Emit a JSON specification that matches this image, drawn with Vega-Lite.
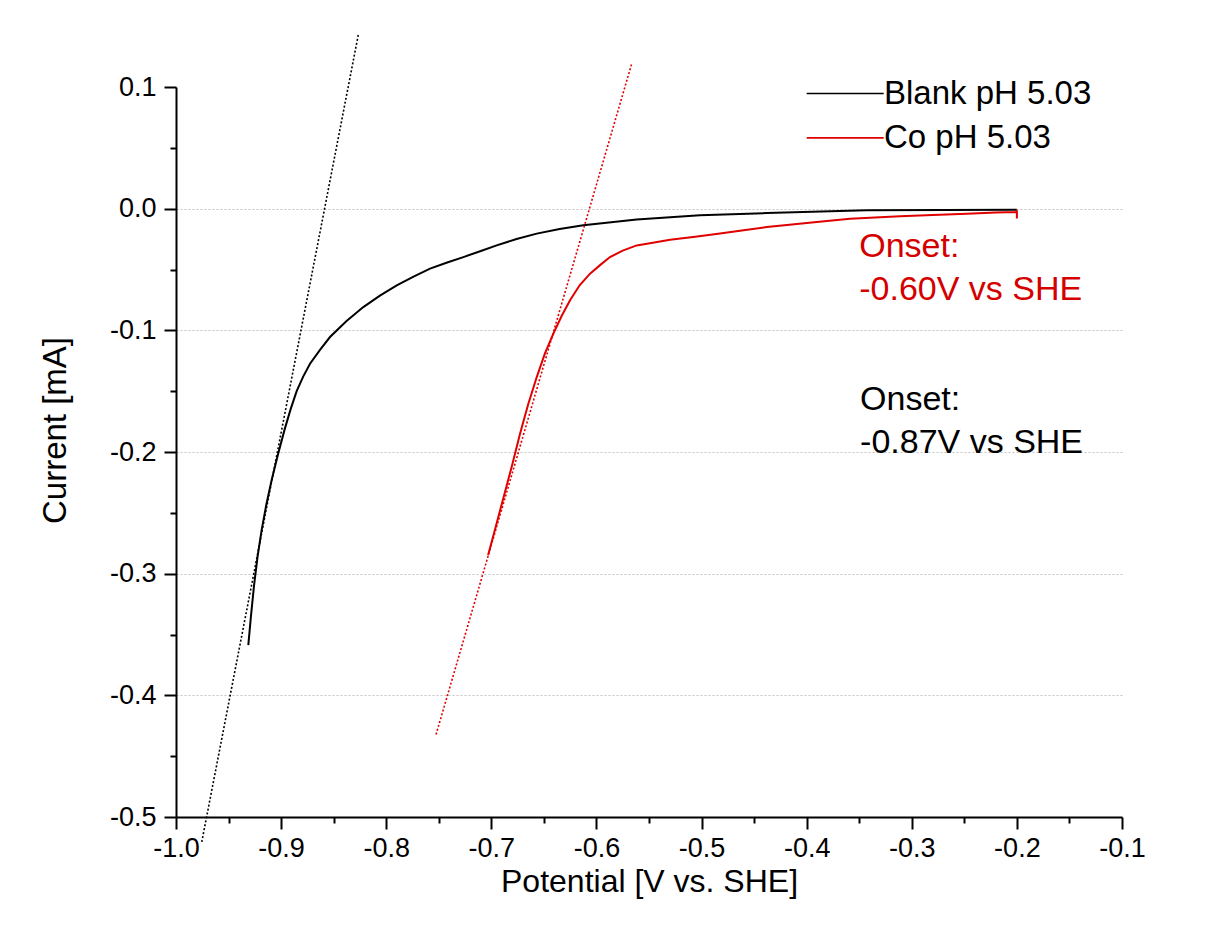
{
  "$schema": "https://vega.github.io/schema/vega-lite/v6.json",
  "width": 946,
  "height": 730,
  "autosize": {"type": "none"},
  "padding": {"left": 176, "top": 87, "right": 91, "bottom": 108},
  "background": "white",
  "config": {
    "view": {"stroke": null},
    "font": "Liberation Sans"
  },
  "datasets": {
    "curves": [
      {"series": "Blank pH 5.03", "i": 1, "potential": -0.9312, "current": -0.3588},
      {"series": "Blank pH 5.03", "i": 2, "potential": -0.9287, "current": -0.3350},
      {"series": "Blank pH 5.03", "i": 3, "potential": -0.9258, "current": -0.3100},
      {"series": "Blank pH 5.03", "i": 4, "potential": -0.9224, "current": -0.2860},
      {"series": "Blank pH 5.03", "i": 5, "potential": -0.9185, "current": -0.2640},
      {"series": "Blank pH 5.03", "i": 6, "potential": -0.9140, "current": -0.2430},
      {"series": "Blank pH 5.03", "i": 7, "potential": -0.9090, "current": -0.2230},
      {"series": "Blank pH 5.03", "i": 8, "potential": -0.9030, "current": -0.2020},
      {"series": "Blank pH 5.03", "i": 9, "potential": -0.8965, "current": -0.1810},
      {"series": "Blank pH 5.03", "i": 10, "potential": -0.8910, "current": -0.1650},
      {"series": "Blank pH 5.03", "i": 11, "potential": -0.8852, "current": -0.1500},
      {"series": "Blank pH 5.03", "i": 12, "potential": -0.8790, "current": -0.1380},
      {"series": "Blank pH 5.03", "i": 13, "potential": -0.8725, "current": -0.1274},
      {"series": "Blank pH 5.03", "i": 14, "potential": -0.8630, "current": -0.1160},
      {"series": "Blank pH 5.03", "i": 15, "potential": -0.8535, "current": -0.1055},
      {"series": "Blank pH 5.03", "i": 16, "potential": -0.8380, "current": -0.0925},
      {"series": "Blank pH 5.03", "i": 17, "potential": -0.8218, "current": -0.0809},
      {"series": "Blank pH 5.03", "i": 18, "potential": -0.8060, "current": -0.0715},
      {"series": "Blank pH 5.03", "i": 19, "potential": -0.7900, "current": -0.0630},
      {"series": "Blank pH 5.03", "i": 20, "potential": -0.7740, "current": -0.0558},
      {"series": "Blank pH 5.03", "i": 21, "potential": -0.7583, "current": -0.0493},
      {"series": "Blank pH 5.03", "i": 22, "potential": -0.7420, "current": -0.0443},
      {"series": "Blank pH 5.03", "i": 23, "potential": -0.7266, "current": -0.0398},
      {"series": "Blank pH 5.03", "i": 24, "potential": -0.7100, "current": -0.0348},
      {"series": "Blank pH 5.03", "i": 25, "potential": -0.6949, "current": -0.0302},
      {"series": "Blank pH 5.03", "i": 26, "potential": -0.6760, "current": -0.0250},
      {"series": "Blank pH 5.03", "i": 27, "potential": -0.6568, "current": -0.0205},
      {"series": "Blank pH 5.03", "i": 28, "potential": -0.6350, "current": -0.0168},
      {"series": "Blank pH 5.03", "i": 29, "potential": -0.6125, "current": -0.0137},
      {"series": "Blank pH 5.03", "i": 30, "potential": -0.5617, "current": -0.0090},
      {"series": "Blank pH 5.03", "i": 31, "potential": -0.5015, "current": -0.0055},
      {"series": "Blank pH 5.03", "i": 32, "potential": -0.4380, "current": -0.0036},
      {"series": "Blank pH 5.03", "i": 33, "potential": -0.3428, "current": -0.0014},
      {"series": "Blank pH 5.03", "i": 34, "potential": -0.2700, "current": -0.0010},
      {"series": "Blank pH 5.03", "i": 35, "potential": -0.2001, "current": -0.0008},
      {"series": "Co pH 5.03", "i": 1, "potential": -0.7031, "current": -0.2849},
      {"series": "Co pH 5.03", "i": 2, "potential": -0.6960, "current": -0.2620},
      {"series": "Co pH 5.03", "i": 3, "potential": -0.6886, "current": -0.2380},
      {"series": "Co pH 5.03", "i": 4, "potential": -0.6800, "current": -0.2100},
      {"series": "Co pH 5.03", "i": 5, "potential": -0.6727, "current": -0.1850},
      {"series": "Co pH 5.03", "i": 6, "potential": -0.6650, "current": -0.1610},
      {"series": "Co pH 5.03", "i": 7, "potential": -0.6568, "current": -0.1384},
      {"series": "Co pH 5.03", "i": 8, "potential": -0.6490, "current": -0.1190},
      {"series": "Co pH 5.03", "i": 9, "potential": -0.6410, "current": -0.1027},
      {"series": "Co pH 5.03", "i": 10, "potential": -0.6330, "current": -0.0880},
      {"series": "Co pH 5.03", "i": 11, "potential": -0.6251, "current": -0.0753},
      {"series": "Co pH 5.03", "i": 12, "potential": -0.6160, "current": -0.0630},
      {"series": "Co pH 5.03", "i": 13, "potential": -0.6061, "current": -0.0534},
      {"series": "Co pH 5.03", "i": 14, "potential": -0.5960, "current": -0.0460},
      {"series": "Co pH 5.03", "i": 15, "potential": -0.5871, "current": -0.0398},
      {"series": "Co pH 5.03", "i": 16, "potential": -0.5750, "current": -0.0345},
      {"series": "Co pH 5.03", "i": 17, "potential": -0.5617, "current": -0.0302},
      {"series": "Co pH 5.03", "i": 18, "potential": -0.5450, "current": -0.0278},
      {"series": "Co pH 5.03", "i": 19, "potential": -0.5300, "current": -0.0255},
      {"series": "Co pH 5.03", "i": 20, "potential": -0.5060, "current": -0.0230},
      {"series": "Co pH 5.03", "i": 21, "potential": -0.4824, "current": -0.0205},
      {"series": "Co pH 5.03", "i": 22, "potential": -0.4600, "current": -0.0178},
      {"series": "Co pH 5.03", "i": 23, "potential": -0.4380, "current": -0.0151},
      {"series": "Co pH 5.03", "i": 24, "potential": -0.4140, "current": -0.0130},
      {"series": "Co pH 5.03", "i": 25, "potential": -0.3904, "current": -0.0110},
      {"series": "Co pH 5.03", "i": 26, "potential": -0.3587, "current": -0.0082},
      {"series": "Co pH 5.03", "i": 27, "potential": -0.3111, "current": -0.0063},
      {"series": "Co pH 5.03", "i": 28, "potential": -0.2800, "current": -0.0052},
      {"series": "Co pH 5.03", "i": 29, "potential": -0.2477, "current": -0.0041},
      {"series": "Co pH 5.03", "i": 30, "potential": -0.2200, "current": -0.0032},
      {"series": "Co pH 5.03", "i": 31, "potential": -0.2010, "current": -0.0027},
      {"series": "Co pH 5.03", "i": 32, "potential": -0.2000, "current": -0.0022},
      {"series": "Co pH 5.03", "i": 33, "potential": -0.2000, "current": -0.0080}
    ],
    "blankFit": [
      {"potential": -0.9755, "current": -0.5205},
      {"potential": -0.8265, "current": 0.1432}
    ],
    "coFit": [
      {"potential": -0.7526, "current": -0.4322},
      {"potential": -0.5661, "current": 0.1202}
    ],
    "blankNote": [
      {"potential": -0.3492, "current": -0.1657, "label": "Onset:\n-0.87V vs SHE"}
    ],
    "coNote": [
      {"potential": -0.3500, "current": -0.0398, "label": "Onset:\n-0.60V vs SHE"}
    ]
  },
  "encoding": {
    "x": {
      "field": "potential",
      "type": "quantitative",
      "scale": {"domain": [-1.0, -0.1], "nice": false, "zero": false},
      "axis": {
        "title": "Potential [V vs. SHE]",
        "titleFont": "Liberation Sans",
        "titleFontWeight": "normal",
        "titleColor": "black",
        "titleFontSize": 32,
        "titlePadding": 5,
        "grid": false,
        "domainColor": "black",
        "domainWidth": 2,
        "tickColor": "black",
        "tickWidth": 2,
        "labelFont": "Liberation Sans",
        "labelFontSize": 27,
        "labelColor": "black",
        "values": [-1.0, -0.95, -0.9, -0.85, -0.8, -0.75, -0.7, -0.65, -0.6, -0.55, -0.5, -0.45, -0.4, -0.35, -0.3, -0.25, -0.2, -0.15, -0.1],
        "labelExpr": "abs(round(datum.value*20)) % 2 == 1 ? '' : replace(format(datum.value, '.1f'), '\u2212', '-')",
        "tickSize": {"condition": {"test": "abs(round(datum.value*20)) % 2 == 1", "value": 6}, "value": 12},
        "labelPadding": 6,
        "labelFlush": false,
        "labelOverlap": false
      }
    },
    "y": {
      "field": "current",
      "type": "quantitative",
      "scale": {"domain": [-0.5, 0.1], "nice": false, "zero": false},
      "axis": {
        "title": "Current [mA]",
        "titleFont": "Liberation Sans",
        "titleFontWeight": "normal",
        "titleColor": "black",
        "titleFontSize": 33,
        "titleAngle": -90,
        "titleAlign": "center",
        "titleBaseline": "middle",
        "titleX": -121,
        "titleY": 343,
        "domainColor": "black",
        "domainWidth": 2,
        "tickColor": "black",
        "tickWidth": 2,
        "labelFont": "Liberation Sans",
        "labelFontSize": 27,
        "labelColor": "black",
        "grid": true,
        "gridColor": "#c4c4c4",
        "gridDash": [2, 2],
        "gridWidth": 1,
        "gridOpacity": {"condition": {"test": "datum.value > 0.05 || datum.value < -0.45 || abs(round(datum.value*20)) % 2 == 1", "value": 0}, "value": 1},
        "values": [-0.5, -0.45, -0.4, -0.35, -0.3, -0.25, -0.2, -0.15, -0.1, -0.05, 0, 0.05, 0.1],
        "labelExpr": "abs(round(datum.value*20)) % 2 == 1 ? '' : replace(format(datum.value, '.1f'), '\u2212', '-')",
        "tickSize": {"condition": {"test": "abs(round(datum.value*20)) % 2 == 1", "value": 6}, "value": 12},
        "labelPadding": 8,
        "labelFlush": false,
        "labelOverlap": false
      }
    }
  },
  "layer": [
    {
      "data": {"name": "curves"},
      "mark": {"type": "line", "strokeWidth": 2},
      "encoding": {
        "order": {"field": "i", "type": "quantitative"},
        "color": {
          "field": "series",
          "type": "nominal",
          "scale": {"domain": ["Blank pH 5.03", "Co pH 5.03"], "range": ["#000000", "#e00000"]},
          "legend": {
            "title": null,
            "orient": "none",
            "legendX": 627,
            "legendY": -10,
            "padding": 0,
            "symbolType": "M-1,0H5",
            "symbolSize": 659,
            "symbolStrokeWidth": 1.6,
            "labelFont": "Liberation Sans",
            "labelFontSize": 33,
            "labelColor": "black",
            "labelOffset": 48,
            "rowPadding": 10.4,
            "labelLimit": 400
          }
        }
      }
    },
    {
      "data": {"name": "blankFit"},
      "mark": {"type": "line", "color": "#000000", "strokeWidth": 1.6, "strokeDash": [2, 2]},
      "encoding": {}
    },
    {
      "data": {"name": "coFit"},
      "mark": {"type": "line", "color": "#e00000", "strokeWidth": 1.6, "strokeDash": [2, 2]},
      "encoding": {}
    },
    {
      "data": {"name": "coNote"},
      "mark": {"type": "text", "align": "left", "baseline": "alphabetic", "fontSize": 34, "lineHeight": 43, "lineBreak": "\n", "color": "#d40000", "font": "Liberation Sans"},
      "encoding": {"text": {"field": "label"}}
    },
    {
      "data": {"name": "blankNote"},
      "mark": {"type": "text", "align": "left", "baseline": "alphabetic", "fontSize": 34, "lineHeight": 43, "lineBreak": "\n", "color": "#000000", "font": "Liberation Sans"},
      "encoding": {"text": {"field": "label"}}
    }
  ]
}
